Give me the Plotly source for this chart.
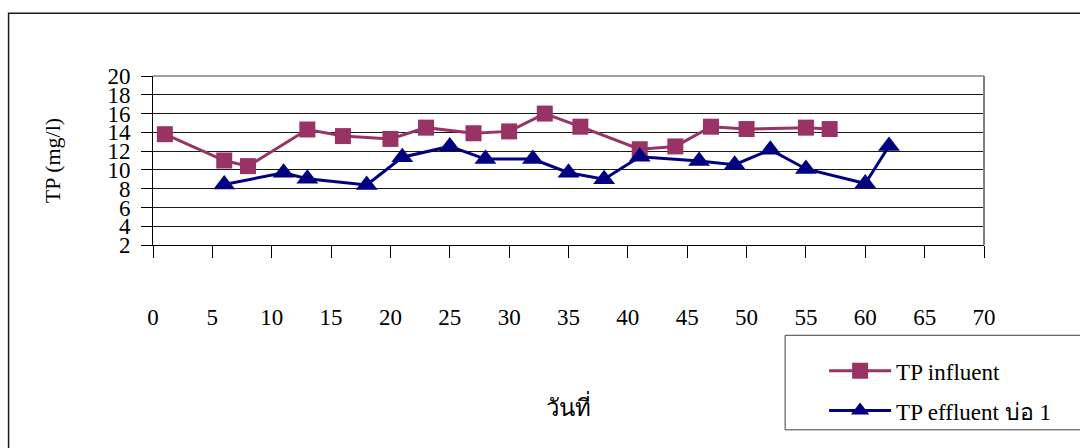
import plotly.graph_objects as go

# Sampling day and total phosphorus (mg/l)
inf_day = [1, 6, 8, 13, 16, 20, 23, 27, 30, 33, 36, 41, 44, 47, 50, 55, 57]
inf_tp = [13.8, 11.0, 10.4, 14.3, 13.6, 13.3, 14.5, 13.9, 14.1, 16.0, 14.6, 12.2, 12.5, 14.6, 14.35, 14.5, 14.35]

eff_day = [6, 11, 13, 18, 21, 25, 28, 32, 35, 38, 41, 46, 49, 52, 55, 60, 62]
eff_tp = [8.45, 9.7, 9.05, 8.4, 11.35, 12.5, 11.15, 11.15, 9.7, 9.0, 11.4, 10.95, 10.55, 12.15, 10.1, 8.55, 12.55]

x_ticks = list(range(0, 71, 5))
y_ticks = list(range(2, 21, 2))

W, H = 1080, 448
L, R, T, B = 152.5, 96, 75.5, 202.7
PW, PH = W - L - R, H - T - B


def px(x):
    return (x - L) / PW


def py(y):
    return (H - B - y) / PH


SERIF = "Liberation Serif"

fig = go.Figure()
fig.add_trace(go.Scatter(
    x=inf_day, y=inf_tp, mode="lines+markers", name="TP influent",
    legendgroup="inf",
    line=dict(color="#993366", width=3),
    marker=dict(symbol="square", size=16, color="#993366"),
))
fig.add_trace(go.Scatter(
    x=eff_day, y=eff_tp, mode="lines+markers", name="TP effluent บ่อ 1",
    legendgroup="eff",
    line=dict(color="#000080", width=3),
    marker=dict(symbol="triangle-up", size=19, color="#000080"),
))

fig.update_layout(
    width=W, height=H,
    margin=dict(l=L, r=R, t=T, b=B, pad=0),
    paper_bgcolor="white", plot_bgcolor="white",
    font=dict(family=SERIF, size=22, color="black"),
    showlegend=True,
    legend=dict(
        x=px(824), y=py(350), xanchor="left", yanchor="top",
        bgcolor="rgba(0,0,0,0)", borderwidth=0,
        font=dict(family=SERIF, size=23), itemwidth=62,
        traceorder="grouped", tracegroupgap=7,
    ),
    xaxis=dict(
        range=[0, 70], tickvals=x_ticks, ticks="outside", ticklen=12,
        tickcolor="black", showline=True, linecolor="black", linewidth=1,
        showgrid=False, zeroline=False, ticklabelstandoff=39,
        tickfont=dict(family=SERIF, size=23),
        title=dict(text="วันที่", standoff=70, font=dict(family=SERIF, size=24)),
    ),
    yaxis=dict(
        range=[2, 20], tickvals=y_ticks, ticks="outside", ticklen=11,
        tickcolor="black", showline=True, linecolor="black", linewidth=1,
        showgrid=True, gridcolor="#1a1a1a", gridwidth=1, zeroline=False,
        ticklabelstandoff=6,
        tickfont=dict(family=SERIF, size=23),
        title=dict(text="TP (mg/l)", standoff=40, font=dict(family=SERIF, size=22)),
    ),
    shapes=[
        # plot area frame (top and right edges in grey)
        dict(type="line", xref="paper", yref="paper", x0=0, x1=1, y0=1, y1=1,
             line=dict(color="#808080", width=1.5)),
        dict(type="line", xref="paper", yref="paper", x0=1, x1=1, y0=0, y1=1,
             line=dict(color="#808080", width=2)),
        # chart area border
        dict(type="rect", xref="paper", yref="paper",
             x0=px(8), x1=px(1100), y0=py(12.5), y1=py(470),
             line=dict(color="#1a1a1a", width=1.5), fillcolor="rgba(0,0,0,0)"),
        # legend box
        dict(type="rect", xref="paper", yref="paper",
             x0=px(785), x1=px(1100), y0=py(336), y1=py(431),
             line=dict(color="#404040", width=1), fillcolor="rgba(0,0,0,0)"),
    ],
)

fig.write_html("out.html")
